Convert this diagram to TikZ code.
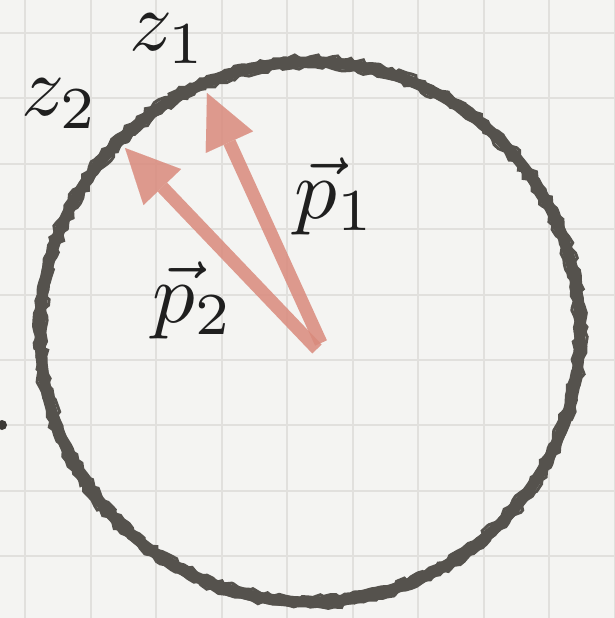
\documentclass[tikz,border=0pt]{standalone}
\usepackage{graphicx}
\usetikzlibrary{arrows.meta,decorations.pathmorphing}
\definecolor{paper}{HTML}{F4F4F2}
\definecolor{gridc}{HTML}{E1E0DD}
\definecolor{ink}{HTML}{55524D}
\definecolor{salmon}{HTML}{D98A7C}
\definecolor{txt}{HTML}{1F1F1F}
\newcommand{\biglbl}[1]{\scalebox{8.5}{#1}}
\begin{document}
\begin{tikzpicture}[x=1pt,y=-1pt,
  vecarrow/.style={salmon, line width=13pt, -{Triangle[width=52pt,length=54pt,line width=0.01pt]}},
  lbl/.style={text=txt, inner sep=0pt},
  gridline/.style={gridc, line width=2pt},
  rough/.style={ink, line width=3pt, decorate, decoration={random steps, segment length=5pt, amplitude=2.4pt}}]
\fill[paper] (0,0) rectangle (615,618);
\useasboundingbox (0,0) rectangle (615,618);
\foreach \i in {0,...,9} \draw[gridline] (25+65.5*\i,0) -- (25+65.5*\i,618);
\foreach \j in {0,...,8} \draw[gridline] (0,33+65.4*\j) -- (615,33+65.4*\j);
% circle
\coordinate (c) at (310,332);
\draw[ink, line width=11pt] (c) circle[radius=270pt];
\pgfmathsetseed{7}
\draw[rough] (c) circle[radius=265pt];
\draw[rough] (c) circle[radius=275pt];
\draw[rough, line width=2pt] (c) circle[radius=270pt];
% dot
\node[circle, fill=ink!70!black, inner sep=0pt, minimum size=10pt] (dot) at (2,425) {};
% vectors
\coordinate (o1) at (321,343);
\coordinate (t1) at (207,93);
\coordinate (o2) at (317,349);
\coordinate (t2) at (125,148);
\begin{scope}[transparency group, opacity=0.85]
\draw[vecarrow] (o1) -- (t1);
\end{scope}
\begin{scope}[transparency group, opacity=0.85]
\draw[vecarrow] (o2) -- (t2);
\end{scope}
% labels
\node[lbl] (z1) at (168,39) {\biglbl{$z_1$}};
\node[lbl] (z2) at (60,104) {\biglbl{$z_2$}};
\node[lbl] (p1) at (335,196) {\biglbl{$\vec{p}_1$}};
\node[lbl] (p2) at (193,300) {\biglbl{$\vec{p}_2$}};
\end{tikzpicture}
\end{document}
